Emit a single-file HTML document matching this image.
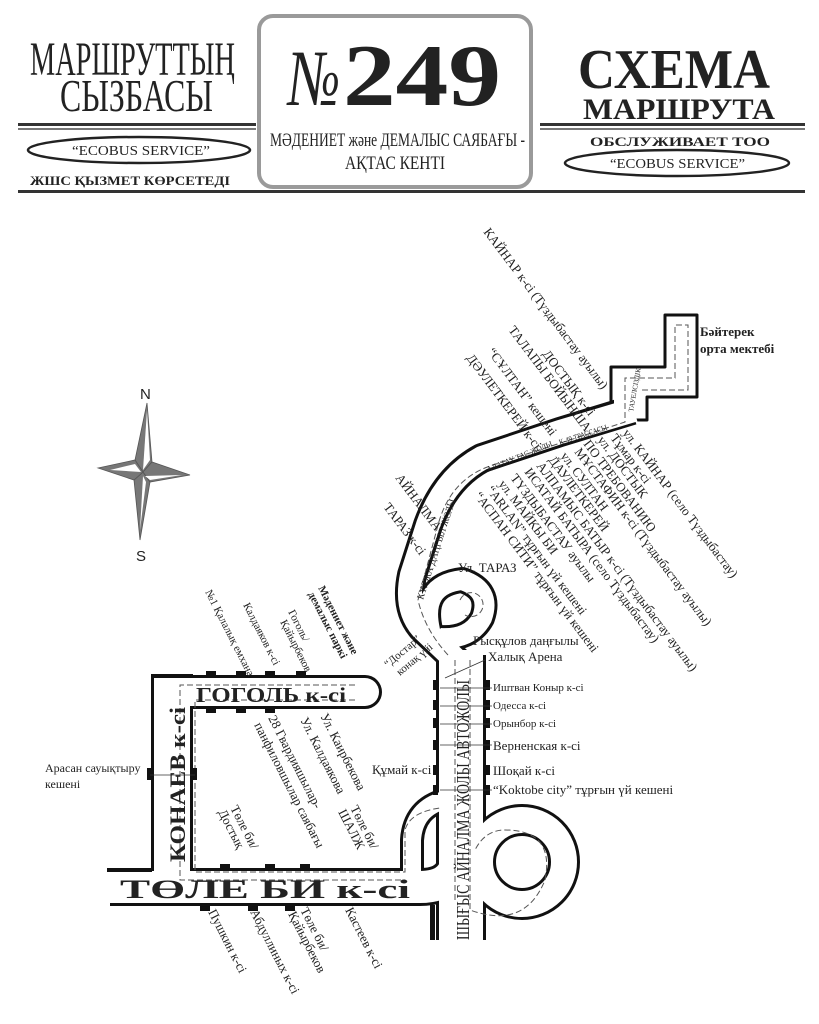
<!DOCTYPE html>
<html><head><meta charset="utf-8"><style>
html,body{margin:0;padding:0;background:#fff;}
svg{display:block;}
text{font-family:"Liberation Serif",serif;fill:#222;}
</style></head><body>
<svg width="819" height="1024" viewBox="0 0 819 1024" xmlns="http://www.w3.org/2000/svg">
<!-- HEADER -->
<rect x="259" y="16" width="272" height="171" rx="14" fill="#fff" stroke="#9a9a9a" stroke-width="4"/>
<text x="30" y="75" font-size="48" textLength="205" lengthAdjust="spacingAndGlyphs">МАРШРУТТЫҢ</text>
<text x="60" y="111" font-size="46" textLength="153" lengthAdjust="spacingAndGlyphs">СЫЗБАСЫ</text>
<text x="288" y="105" font-size="80" font-style="italic" textLength="52" lengthAdjust="spacingAndGlyphs">№</text>
<text x="343" y="105" font-size="88" font-weight="bold" textLength="158" lengthAdjust="spacingAndGlyphs">249</text>
<text x="270" y="146" font-size="19" textLength="255" lengthAdjust="spacingAndGlyphs">МӘДЕНИЕТ және ДЕМАЛЫС САЯБАҒЫ -</text>
<text x="345" y="169" font-size="19" textLength="100" lengthAdjust="spacingAndGlyphs">АҚТАС КЕНТІ</text>
<text x="578" y="88" font-size="56" font-weight="bold" textLength="192" lengthAdjust="spacingAndGlyphs">СХЕМА</text>
<text x="583" y="119" font-size="30" font-weight="bold" textLength="192" lengthAdjust="spacingAndGlyphs">МАРШРУТА</text>
<rect x="18" y="123" width="238" height="3" fill="#333"/><rect x="18" y="128" width="238" height="2" fill="#777"/>
<rect x="540" y="123" width="265" height="3" fill="#333"/><rect x="540" y="128" width="265" height="2" fill="#777"/>
<ellipse cx="139" cy="150" rx="111" ry="13" fill="none" stroke="#222" stroke-width="2.5"/>
<text x="72" y="155" font-size="14" textLength="138" lengthAdjust="spacingAndGlyphs">“ECOBUS SERVICE”</text>
<text x="30" y="185" font-size="13" font-weight="bold" textLength="200" lengthAdjust="spacingAndGlyphs">ЖШС ҚЫЗМЕТ КӨРСЕТЕДІ</text>
<text x="590" y="146" font-size="13" font-weight="bold" textLength="180" lengthAdjust="spacingAndGlyphs">ОБСЛУЖИВАЕТ  ТОО</text>
<ellipse cx="677" cy="163" rx="112" ry="13" fill="none" stroke="#222" stroke-width="2.5"/>
<text x="610" y="168" font-size="14" textLength="135" lengthAdjust="spacingAndGlyphs">“ECOBUS SERVICE”</text>
<rect x="18" y="190" width="787" height="3" fill="#333"/>

<!-- COMPASS -->
<text x="140" y="399" font-size="15" style="font-family:'Liberation Sans',sans-serif">N</text>
<text x="136" y="561" font-size="15" style="font-family:'Liberation Sans',sans-serif">S</text>
<g fill="#777" stroke="#555" stroke-width="0.8">
<polygon points="147,403 152,462 143,472 135,460"/>
<polygon points="143,472 150,482 140,540 134,480"/>
<polygon points="98,468 135,460 143,472 134,480"/>
<polygon points="143,472 152,462 190,475 150,482"/>
</g>
<g fill="#fff"><polygon points="147,410 150,460 143,470"/><polygon points="110,470 135,464 141,472"/><polygon points="145,476 182,475 150,480"/><polygon points="143,476 146,482 140,530"/></g>

<!-- zigzag block -->
<polygon points="611,420 611,367 665,367 665,315 697,315 697,397 647,397 647,420" fill="#fff" stroke="#111" stroke-width="3" stroke-linejoin="round"/>
<!-- ROADS black -->
<g fill="none" stroke="#111" stroke-linejoin="round">
<path d="M172 692 H365" stroke-width="34" stroke-linecap="round"/>
<path d="M172 674 V887" stroke-width="42"/>
<path d="M110 887 H420 Q458 887 458 850" stroke-width="38"/>
<path d="M412 890 V840 Q414 808 445 800" stroke-width="24"/>
<path d="M461 655 V940" stroke-width="50"/>
<circle cx="522" cy="862" r="42" stroke-width="32"/>
<path d="M461 665 Q440 645 422 628 Q405 608 412 575 L428 525 Q445 478 482 458 L560 432 L632 410" stroke-width="30"/>
<path d="M430 630 Q420 585 462 580 Q492 590 482 618 Q470 640 440 638" stroke-width="26"/>
</g>
<!-- ROADS white -->
<g fill="none" stroke="#fff" stroke-linejoin="round">
<path d="M172 692 H365" stroke-width="28" stroke-linecap="round"/>
<path d="M172 678 V887" stroke-width="36"/>
<path d="M105 887 H420 Q458 887 458 850" stroke-width="32"/>
<path d="M412 890 V840 Q414 808 445 800" stroke-width="18"/>
<path d="M461 650 V945" stroke-width="44"/>
<circle cx="522" cy="862" r="42" stroke-width="26"/>
<path d="M461 665 Q440 645 422 628 Q405 608 412 575 L428 525 Q445 478 482 458 L560 432 L634 410" stroke-width="24"/>
<path d="M430 630 Q420 585 462 580 Q492 590 482 618 Q470 640 440 638" stroke-width="20"/>
</g>
<rect x="614" y="370" width="30" height="48" fill="#fff"/>
<rect x="107" y="868" width="45" height="4" fill="#111"/>
<rect x="430" y="905" width="5" height="35" fill="#111"/>
<!-- route dashed -->
<g fill="none" stroke="#555" stroke-width="1" stroke-dasharray="6 3">
<path d="M355 685 H180 V880 H405"/><path d="M355 700 H195 V872 H405 V830 Q410 812 440 808"/>
<path d="M455 660 V900"/><path d="M470 660 V910 Q525 930 545 880 Q555 830 505 830 Q485 830 475 850"/>
<path d="M448 655 Q425 630 418 600 L438 525 Q450 480 490 466 L625 422 V378 H675 V325 H688 V390 H640"/>
<path d="M460 600 A12 12 0 1 1 465 615"/>
</g>
<!-- notches -->
<g fill="#111">
<rect x="206" y="671" width="10" height="6"/><rect x="236" y="671" width="10" height="6"/><rect x="265" y="671" width="10" height="6"/><rect x="296" y="671" width="10" height="6"/>
<rect x="206" y="708" width="10" height="5"/><rect x="236" y="708" width="10" height="5"/><rect x="265" y="708" width="10" height="5"/>
<rect x="147" y="768" width="5" height="12"/><rect x="192" y="768" width="5" height="12"/>
<rect x="220" y="864" width="10" height="6"/><rect x="265" y="864" width="10" height="6"/><rect x="300" y="864" width="10" height="6"/>
<rect x="200" y="905" width="10" height="6"/><rect x="248" y="905" width="10" height="6"/><rect x="285" y="905" width="10" height="6"/>
<rect x="433" y="680" width="5" height="10"/><rect x="433" y="700" width="5" height="10"/><rect x="433" y="718" width="5" height="10"/><rect x="433" y="740" width="5" height="10"/><rect x="433" y="765" width="5" height="10"/><rect x="433" y="785" width="5" height="10"/>
<rect x="485" y="680" width="5" height="10"/><rect x="485" y="700" width="5" height="10"/><rect x="485" y="718" width="5" height="10"/><rect x="485" y="740" width="5" height="10"/><rect x="485" y="765" width="5" height="10"/><rect x="485" y="785" width="5" height="10"/>
</g>
<g stroke="#333" stroke-width="0.8">
<line x1="440" y1="688" x2="492" y2="688"/><line x1="440" y1="706" x2="492" y2="706"/><line x1="440" y1="724" x2="492" y2="724"/><line x1="440" y1="745" x2="492" y2="745"/><line x1="440" y1="790" x2="492" y2="790"/>
<line x1="150" y1="775" x2="195" y2="775"/><line x1="485" y1="660" x2="445" y2="678"/>
</g>

<!-- road labels -->
<text x="196" y="702" font-size="21" font-weight="bold" textLength="150" lengthAdjust="spacingAndGlyphs">ГОГОЛЬ к-сі</text>
<text transform="translate(185,862) rotate(-90)" font-size="22" font-weight="bold" textLength="155" lengthAdjust="spacingAndGlyphs">КОНАЕВ к-сі</text>
<text x="120" y="898" font-size="26" font-weight="bold" textLength="290" lengthAdjust="spacingAndGlyphs">ТӨЛЕ БИ к-сі</text>
<text transform="translate(469,940) rotate(-90)" font-size="18" textLength="260" lengthAdjust="spacingAndGlyphs">ШЫҒЫС АЙНАЛМА ЖОЛЫ АВТОЖОЛЫ</text>
<text transform="translate(423,600) rotate(-72)" font-size="10" textLength="105" lengthAdjust="spacingAndGlyphs">КҮЛЖА ДАҢҒЫЛ ЖОЛЫ</text>
<text transform="translate(488,472) rotate(-22)" font-size="8" textLength="70" lengthAdjust="spacingAndGlyphs">АЛАТАУ ТАС ЖОЛЫ</text>
<text transform="translate(560,445) rotate(-18)" font-size="8" textLength="50" lengthAdjust="spacingAndGlyphs">К-49 ТРАССАСЫ</text>
<text transform="translate(633,412) rotate(-80)" font-size="7">ТАУЕЛСІЗДІК</text>

<!-- rotated labels upper -->
<g font-size="13">
<text transform="translate(483,232) rotate(53)">КАЙНАР к-сі (Түздыбастау ауылы)</text>
<text transform="translate(542,354) rotate(53)">ДОСТЫҚ к-сі</text>
<text transform="translate(508,330) rotate(53)">ТАЛАПЫ БОЙЫНША</text>
<text transform="translate(487,352) rotate(53)">“СҰЛТАН” кешені</text>
<text transform="translate(466,358) rotate(53)">ДӘУЛЕТКЕРЕЙ к-сі</text>
<text transform="translate(395,478) rotate(53)">АЙНАЛМА</text>
<text transform="translate(383,507) rotate(53)">ТАРАЗ к-сі</text>
<text transform="translate(622,433) rotate(53)">ул. КАЙНАР (село Түздыбастау)</text>
<text transform="translate(610,438) rotate(53)">Тұмар к-сі</text>
<text transform="translate(597,440) rotate(53)">ул. ДОСТЫК</text>
<text transform="translate(583,444) rotate(53)">ПО ТРЕБОВАНИЮ</text>
<text transform="translate(574,452) rotate(53)">МҰСТАФИН к-сі (Түздыбастау ауылы)</text>
<text transform="translate(560,456) rotate(53)">ул. СУЛТАН</text>
<text transform="translate(548,460) rotate(53)">ДАУЛЕТКЕРЕЙ</text>
<text transform="translate(536,466) rotate(53)">АЛПАМЫС БАТЫР к-сі (Түздыбастау ауылы)</text>
<text transform="translate(524,472) rotate(53)">ИСАТАЙ БАТЫРА (село Түздыбастау)</text>
<text transform="translate(510,478) rotate(53)">ТҮЗДЫБАСТАУ ауылы</text>
<text transform="translate(498,484) rotate(53)">ул. МАЙКЫ БИ</text>
<text transform="translate(486,490) rotate(53)">“ARLAN” тұрғын үй кешені</text>
<text transform="translate(474,496) rotate(53)">“АСПАН СИТИ” тұрғын үй кешені</text>
</g>
<text x="700" y="336" font-size="13" font-weight="bold">Бәйтерек</text>
<text x="700" y="353" font-size="13" font-weight="bold">орта мектебі</text>
<text x="458" y="572" font-size="13">Ул. ТАРАЗ</text>
<text x="473" y="645" font-size="13">Рысқұлов даңғылы</text>
<text x="488" y="661" font-size="13">Халық Арена</text>
<text x="493" y="691" font-size="11">Иштван Коныр к-сі</text>
<text x="493" y="709" font-size="11">Одесса к-сі</text>
<text x="493" y="727" font-size="11">Орынбор к-сі</text>
<text x="493" y="750" font-size="13">Верненская к-сі</text>
<text x="493" y="775" font-size="13">Шоқай к-сі</text>
<text x="493" y="794" font-size="13">“Koktobe city” тұрғын үй кешені</text>
<text x="372" y="774" font-size="13">Құмай к-сі</text>
<text x="45" y="772" font-size="12">Арасан сауықтыру</text>
<text x="45" y="788" font-size="12">кешені</text>
<text transform="translate(388,668) rotate(-40)" font-size="11">“Достар”</text>
<text transform="translate(400,676) rotate(-40)" font-size="11">конақ үйі</text>
<g font-size="11">
<text transform="translate(205,592) rotate(63)">№1 Қалалық емхана</text>
<text transform="translate(243,605) rotate(63)">Калдаяков к-сі</text>
<text transform="translate(288,612) rotate(63)">Гоголь/</text>
<text transform="translate(280,622) rotate(63)">Қайырбеков</text>
<text transform="translate(318,588) rotate(63)" font-weight="bold">Мәдениет және</text>
<text transform="translate(308,594) rotate(63)" font-weight="bold">демалыс паркі</text>
</g>
<g font-size="13">
<text transform="translate(268,718) rotate(63)">28 Гвардияшылар-</text>
<text transform="translate(254,725) rotate(63)">панфиловшылар саябағы</text>
<text transform="translate(300,720) rotate(63)">Ул. Калдаякова</text>
<text transform="translate(320,716) rotate(63)">Ул. Каирбекова</text>
<text transform="translate(230,808) rotate(63)">Төле би/</text>
<text transform="translate(218,812) rotate(63)">Достық</text>
<text transform="translate(350,808) rotate(63)">Төле би/</text>
<text transform="translate(338,812) rotate(63)">ШАЛЖ</text>
<text transform="translate(208,912) rotate(63)">Пушкин к-сі</text>
<text transform="translate(250,912) rotate(63)">Абдуллиных к-сі</text>
<text transform="translate(300,910) rotate(63)">Төле би/</text>
<text transform="translate(288,914) rotate(63)">Қайырбеков</text>
<text transform="translate(345,910) rotate(63)">Кастеев к-сі</text>
</g>
</svg>
</body></html>
